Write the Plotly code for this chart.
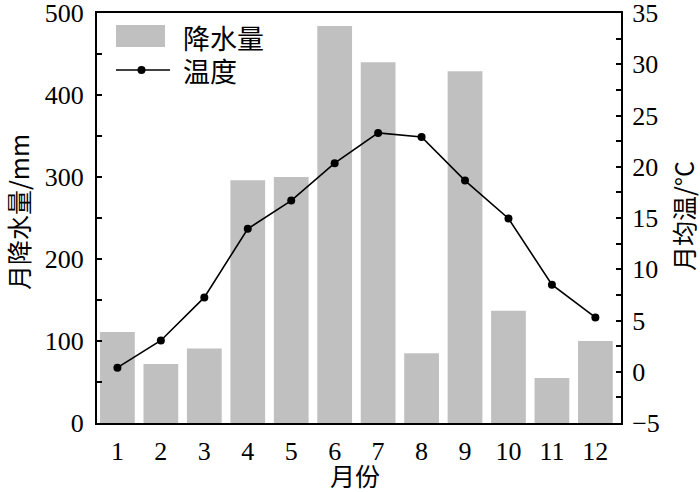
import plotly.graph_objects as go

months = [1, 2, 3, 4, 5, 6, 7, 8, 9, 10, 11, 12]
month_labels = ["1", "2", "3", "4", "5", "6", "7", "8", "9", "10", "11", "12"]
precip = [111, 72, 91, 296, 300, 484, 440, 85, 429, 137, 55, 100]
temp = [0.4, 3.05, 7.25, 13.95, 16.7, 20.35, 23.3, 22.9, 18.65, 14.95, 8.5, 5.3]
precip_ticks = [0, 100, 200, 300, 400, 500]
temp_ticks = [-5, 0, 5, 10, 15, 20, 25, 30, 35]

W, H = 700, 492
L, R, T, B = 97, 621, 13, 423

def px(x):
    return (x - L) / (R - L)

def py(y):
    return (B - y) / (B - T)

SERIF = "Liberation Serif, Times New Roman, Noto Sans CJK SC"
CJK = "Noto Sans CJK SC, Liberation Serif"
BAR_COLOR = "#c0c0c0"

fig = go.Figure()
fig.add_trace(go.Bar(x=months, y=precip, marker=dict(color=BAR_COLOR, line=dict(width=0)),
                     width=0.8, name="降水量", showlegend=False))
fig.add_trace(go.Scatter(x=months, y=temp, yaxis="y2", mode="lines+markers",
                         line=dict(color="black", width=1.6),
                         marker=dict(color="black", size=8),
                         name="温度", showlegend=False))

fig.update_layout(
    width=W, height=H,
    margin=dict(l=L, r=W - R, t=T, b=H - B, pad=0, autoexpand=False),
    paper_bgcolor="white", plot_bgcolor="white",
    font=dict(family=SERIF, size=26, color="black"),
    xaxis=dict(range=[0.53, 12.59], tickmode="array", tickvals=months, ticktext=month_labels,
               showline=True, linecolor="black", linewidth=2, mirror=True, automargin=False,
               ticks="", showgrid=False, zeroline=False, ticklabelstandoff=4,
               ticklabeloverflow="allow",
               tickfont=dict(family=SERIF, size=26)),
    yaxis=dict(range=[0, 500], tickmode="array", tickvals=precip_ticks,
               showline=True, linecolor="black", linewidth=2, automargin=False,
               ticks="inside", ticklen=5, tickwidth=1.5, tickcolor="black",
               minor=dict(dtick=50, ticks="inside", ticklen=5, tickwidth=1.5, tickcolor="black"),
               showgrid=False, zeroline=False, ticklabelstandoff=6,
               ticklabeloverflow="allow",
               tickfont=dict(family=SERIF, size=26)),
    yaxis2=dict(range=[-5, 35], tickmode="array", tickvals=temp_ticks, overlaying="y", side="right",
                showline=True, linecolor="black", linewidth=2, automargin=False,
                ticks="inside", ticklen=5, tickwidth=1.5, tickcolor="black",
                minor=dict(dtick=2.5, ticks="inside", ticklen=5, tickwidth=1.5, tickcolor="black"),
                showgrid=False, zeroline=False, ticklabelstandoff=4,
                ticklabeloverflow="allow",
                tickfont=dict(family=SERIF, size=26)),
)

# axis titles
fig.add_annotation(text="月降水量/mm", xref="paper", yref="paper", x=px(18), y=py(212),
                   textangle=-90, showarrow=False, font=dict(family=CJK, size=25),
                   xanchor="center", yanchor="middle", borderpad=0)
fig.add_annotation(text="月均温/°C", xref="paper", yref="paper", x=px(683), y=py(216),
                   textangle=-90, showarrow=False, font=dict(family=CJK, size=25),
                   xanchor="center", yanchor="middle", borderpad=0)
fig.add_annotation(text="月份", xref="paper", yref="paper", x=px(355), y=py(475),
                   showarrow=False, font=dict(family=CJK, size=25),
                   xanchor="center", yanchor="middle", borderpad=0)

# manual legend
fig.add_shape(type="rect", xref="paper", yref="paper", x0=px(116), x1=px(165), y0=py(47), y1=py(25),
              fillcolor=BAR_COLOR, line=dict(width=0))
fig.add_shape(type="line", xref="paper", yref="paper", x0=px(116), x1=px(170), y0=py(70), y1=py(70),
              line=dict(color="black", width=1.6))
fig.add_shape(type="circle", xref="paper", yref="paper", x0=px(137.5), x1=px(145.5), y0=py(74), y1=py(66),
              fillcolor="black", line=dict(width=0))
fig.add_annotation(text="降水量", xref="paper", yref="paper", x=px(182), y=py(37),
                   showarrow=False, font=dict(family=CJK, size=27), xanchor="left", yanchor="middle",
                   borderpad=0)
fig.add_annotation(text="温度", xref="paper", yref="paper", x=px(182), y=py(70),
                   showarrow=False, font=dict(family=CJK, size=27), xanchor="left", yanchor="middle",
                   borderpad=0)

fig.write_html("out.html", config={"displayModeBar": False},
               post_script="document.body.style.margin='0';document.body.style.overflow='hidden';")
